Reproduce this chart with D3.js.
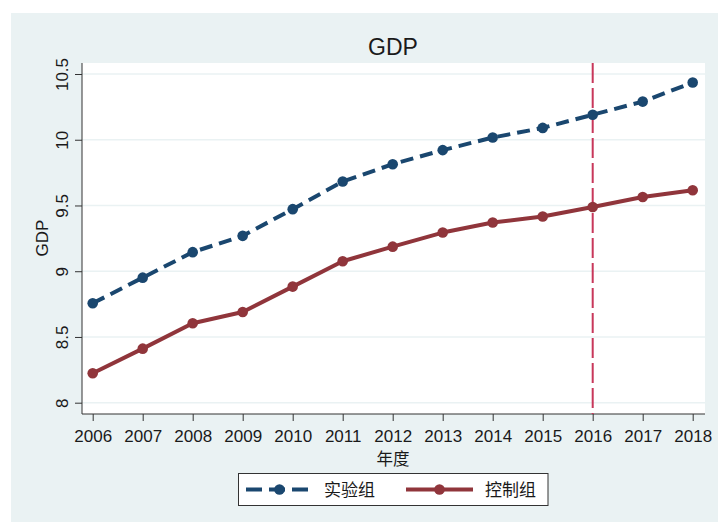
<!DOCTYPE html>
<html>
<head>
<meta charset="utf-8">
<script src="https://cdn.jsdelivr.net/npm/d3@7"></script>
<style>
  body { margin: 0; background: #fff; }
  text { font-family: "Liberation Sans", Arial, "Noto Sans CJK SC", sans-serif; fill: #1a1a1a; }
  .cjk { font-family: "Noto Sans CJK SC", "Liberation Sans", sans-serif; }
</style>
</head>
<body>
<svg id="chart"></svg>
<script>
const years = [2006, 2007, 2008, 2009, 2010, 2011, 2012, 2013, 2014, 2015, 2016, 2017, 2018];
const treated = [8.756, 8.951, 9.145, 9.269, 9.472, 9.682, 9.814, 9.921, 10.017, 10.09, 10.19, 10.29, 10.435];
const control = [8.224, 8.411, 8.604, 8.69, 8.883, 9.076, 9.187, 9.294, 9.37, 9.416, 9.489, 9.565, 9.616];
const yTicks = [8, 8.5, 9, 9.5, 10, 10.5];
const policyYear = 2016;
const seriesNames = ['实验组', '控制组'];

const w = 718, h = 522;
const blue = '#1a476f', red = '#90353b';

const svg = d3.select('#chart').attr('width', w).attr('height', h);

// outer background and plot region
svg.append('rect').attr('x', 11).attr('y', 13).attr('width', w - 11).attr('height', h - 13).attr('fill', '#eaf2f3');
svg.append('rect').attr('x', 82).attr('y', 63).attr('width', 623).attr('height', 351).attr('fill', '#fff');

const x = d3.scaleLinear().domain([2006, 2018]).range([92.7, 692.7]);
const y = d3.scaleLinear().domain([8, 10.5]).range([402.7, 74]);

// gridlines
svg.selectAll('line.grid')
  .data(yTicks)
  .enter()
  .append('line')
  .attr('class', 'grid')
  .attr('x1', 82).attr('x2', 705)
  .attr('y1', d => y(d)).attr('y2', d => y(d))
  .attr('stroke', '#eaf2f3')
  .attr('stroke-width', 1.5);

// y axis
const yAxis = svg.append('g')
  .attr('transform', 'translate(82,0)')
  .call(d3.axisLeft(y).tickValues(yTicks).tickSize(7).tickFormat(d3.format('')));
yAxis.select('.domain').attr('d', 'M0,63V414').attr('stroke', '#333');
yAxis.selectAll('.tick line').attr('stroke', '#333');
yAxis.selectAll('.tick text')
  .attr('x', 0).attr('dy', null).attr('y', 0)
  .attr('transform', 'translate(-14,0) rotate(-90)')
  .attr('text-anchor', 'middle')
  .style('font-size', '17px');

// x axis
const xAxis = svg.append('g')
  .attr('transform', 'translate(0,414)')
  .call(d3.axisBottom(x).tickValues(years).tickSize(7).tickFormat(d3.format('d')));
xAxis.select('.domain').attr('d', 'M82,0H705').attr('stroke', '#333');
xAxis.selectAll('.tick line').attr('stroke', '#333');
xAxis.selectAll('.tick text')
  .attr('y', 27.7).attr('dy', null)
  .style('font-size', '17px');
svg.selectAll('.tick text').attr('fill', '#1a1a1a');

// policy line
svg.append('line')
  .attr('x1', x(policyYear)).attr('x2', x(policyYear))
  .attr('y1', 63).attr('y2', 414)
  .attr('stroke', '#c8375a')
  .attr('stroke-width', 2)
  .attr('stroke-dasharray', '20,5');

// series
const line = d3.line().x((d, i) => x(years[i])).y(d => y(d));

svg.append('path').datum(control)
  .attr('d', line).attr('fill', 'none')
  .attr('stroke', red).attr('stroke-width', 4).attr('stroke-linejoin', 'round');
svg.selectAll('circle.ctrl').data(control).enter().append('circle')
  .attr('class', 'ctrl')
  .attr('cx', (d, i) => x(years[i])).attr('cy', d => y(d)).attr('r', 5.3)
  .attr('fill', red);

svg.append('path').datum(treated)
  .attr('d', line).attr('fill', 'none')
  .attr('stroke', blue).attr('stroke-width', 4).attr('stroke-dasharray', '13,7');
svg.selectAll('circle.trt').data(treated).enter().append('circle')
  .attr('class', 'trt')
  .attr('cx', (d, i) => x(years[i])).attr('cy', d => y(d)).attr('r', 5.3)
  .attr('fill', blue);

// titles
svg.append('text').attr('x', 393).attr('y', 55).attr('text-anchor', 'middle')
  .style('font-size', '23px').text('GDP');
svg.append('text').attr('transform', 'translate(48,238) rotate(-90)').attr('text-anchor', 'middle')
  .style('font-size', '17px').text('GDP');
svg.append('text').attr('class', 'cjk').attr('x', 393).attr('y', 465).attr('text-anchor', 'middle')
  .style('font-size', '16.5px').text('年度');

// legend
const lg = svg.append('g');
lg.append('rect').attr('x', 238.5).attr('y', 473.5).attr('width', 309.5).attr('height', 32)
  .attr('fill', '#fff').attr('stroke', '#333').attr('stroke-width', 1);

const legendItems = [
  {name: seriesNames[0], color: blue, dash: '16,7', x0: 246, x1: 313, tx: 324},
  {name: seriesNames[1], color: red, dash: null, x0: 406, x1: 473, tx: 485}
];
const li = lg.selectAll('g.item').data(legendItems).enter().append('g').attr('class', 'item');
li.append('line')
  .attr('x1', d => d.x0).attr('x2', d => d.x1).attr('y1', 489.5).attr('y2', 489.5)
  .attr('stroke', d => d.color).attr('stroke-width', 4)
  .attr('stroke-dasharray', d => d.dash);
li.append('circle')
  .attr('cx', d => (d.x0 + d.x1) / 2).attr('cy', 489.5).attr('r', 5.3)
  .attr('fill', d => d.color);
li.append('text').attr('class', 'cjk')
  .attr('x', d => d.tx).attr('y', 495.5)
  .style('font-size', '17px')
  .text(d => d.name);
</script>
</body>
</html>
